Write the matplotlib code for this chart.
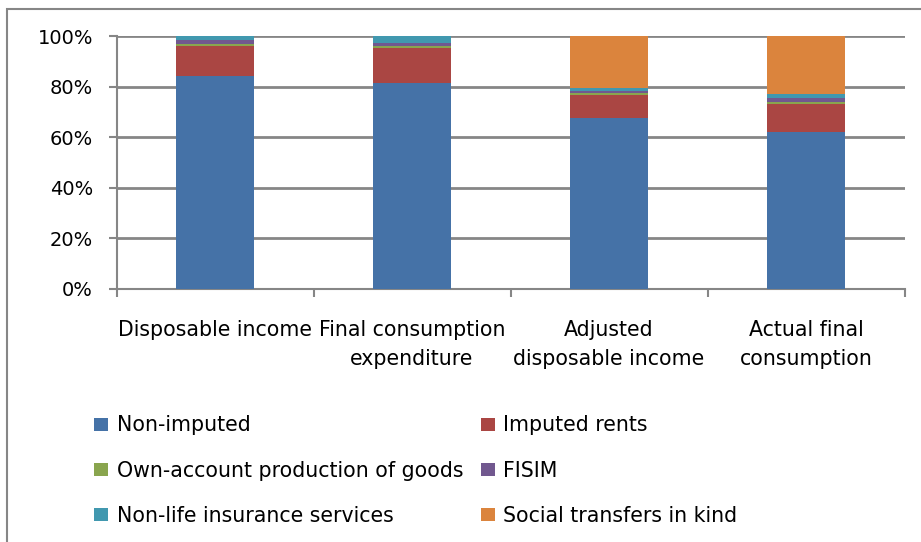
import matplotlib.pyplot as plt
from matplotlib.patches import Rectangle
import numpy as np

categories = ['Disposable income', 'Final consumption\nexpenditure',
              'Adjusted\ndisposable income', 'Actual final\nconsumption']
non_imputed = [84.3, 81.3, 67.5, 61.9]
imputed_rents = [11.8, 14.1, 9.2, 11.2]
own_account = [0.8, 0.6, 0.6, 0.8]
fisim = [1.6, 1.3, 0.9, 1.6]
insurance = [1.5, 2.7, 1.2, 1.5]
social_transfers = [0.0, 0.0, 20.6, 23.0]

series = [
    ('Non-imputed', non_imputed, '#4572A7'),
    ('Imputed rents', imputed_rents, '#AA4643'),
    ('Own-account production of goods', own_account, '#89A54E'),
    ('FISIM', fisim, '#71588F'),
    ('Non-life insurance services', insurance, '#4198AF'),
    ('Social transfers in kind', social_transfers, '#DB843D'),
]

plt.rcParams['font.family'] = ['DejaVu Sans']

fig = plt.figure(figsize=(9.21, 5.42), dpi=100)
fig.patches.append(Rectangle((7 / 921, -0.1), 1.2, (542 - 9) / 542 + 0.1,
                             transform=fig.transFigure, fill=False,
                             edgecolor='#868686', linewidth=1.5))
ax = fig.add_axes([116.5 / 921, 253 / 542, 788 / 921, 253 / 542])

x = np.arange(len(categories))
bottom = np.zeros(len(categories))
handles = {}
for name, vals, color in series:
    vals = np.array(vals)
    b = ax.bar(x, vals, 0.4, bottom=bottom, color=color, label=name,
               linewidth=0, zorder=3)
    handles[name] = b
    bottom += vals

ax.set_xlim(-0.5, 3.5)
ax.set_ylim(0, 100)
ax.set_yticks(np.arange(0, 101, 20))
ax.set_yticklabels([f'{v}%' for v in range(0, 101, 20)], fontsize=14)
ax.yaxis.grid(True, color='#868686', linewidth=2, zorder=0)
ax.set_xticks(x)
ax.set_xticklabels(categories, fontsize=14.8, linespacing=1.6)
ax.set_xticks(np.arange(-0.5, 4, 1), minor=True)
ax.tick_params(axis='x', which='major', length=0, pad=22)
ax.tick_params(axis='x', which='minor', length=6, width=1.5, color='#868686', direction='out')
ax.tick_params(axis='y', length=6, width=1.5, color='#868686', pad=11)
for s in ['top', 'right']:
    ax.spines[s].set_visible(False)
ax.spines['left'].set_color('#868686')
ax.spines['bottom'].set_color('#868686')
ax.spines['left'].set_linewidth(1.5)
ax.spines['bottom'].set_linewidth(1.5)

order = ['Non-imputed', 'Own-account production of goods', 'Non-life insurance services',
         'Imputed rents', 'FISIM', 'Social transfers in kind']
fig.legend([handles[n] for n in order], order, loc='upper left',
           bbox_to_anchor=(78 / 921, 1 - 399 / 542), ncol=2, frameon=False,
           fontsize=14.8, handlelength=0.68, handleheight=0.6, handletextpad=0.4,
           columnspacing=0.85, labelspacing=1.22, borderpad=0.3)

plt.savefig('out.png', dpi=100)
